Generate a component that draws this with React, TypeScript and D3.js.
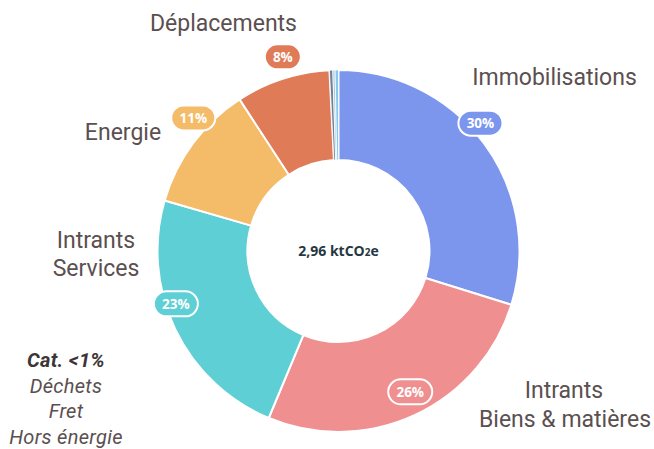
import React from "react";
import * as d3 from "d3";

const categories = ["Immobilisations", "Intrants Biens & matières", "Intrants Services", "Energie", "Déplacements", "Déchets", "Fret", "Hors énergie"];
const values = [29.8, 26.5, 23.2, 11.3, 8.4, 0.3, 0.2, 0.3];
const badgeLabels = ["30%", "26%", "23%", "11%", "8%", "", "", ""];
const colors = ["#7b96ec", "#f08f8f", "#5ecfd4", "#f4bb68", "#e07b58", "#6f8296", "#a9c6dc", "#86c9ee"];
// badge polar placement (degrees clockwise from top, radius px)
const badgeAngle = [48, 153, 252, 312.5, 344];
const badgeRadius = [191, 158, 171, 197, 202];

const W = 654, H = 449;
const cx = 338.5, cy = 251, R = 181, r0 = 91;
const textColor = "#5b4f50";
const labelFont = "Roboto, 'Open Sans', sans-serif";

export default function App() {
  const pie = d3.pie<number>().sort(null).value((d) => d);
  const arcs = pie(values);
  const arcGen = d3.arc<d3.PieArcDatum<number>>().innerRadius(r0).outerRadius(R);

  return (
    <svg width={W} height={H} style={{ position: "absolute", left: 0, top: 0 }} xmlns="http://www.w3.org/2000/svg">
      <rect width={W} height={H} fill="#fff" />
      <g transform={`translate(${cx},${cy})`}>
        {arcs.map((a, i) => (
          <path key={i} d={arcGen(a) || ""} fill={colors[i]} stroke="#fff" strokeWidth={i >= 5 ? 0.8 : 2} strokeLinejoin="round" />
        ))}
        {badgeAngle.map((ang, i) => {
          const rad = (ang * Math.PI) / 180;
          const x = Math.sin(rad) * badgeRadius[i];
          const y = -Math.cos(rad) * badgeRadius[i];
          const w = badgeLabels[i].length > 2 ? 44 : 36;
          return (
            <g key={"b" + i} transform={`translate(${x},${y})`}>
              <rect x={-w / 2} y={-12.5} width={w} height={25} rx={12.5} fill={colors[i]} stroke="#fff" strokeWidth={2} />
              <text textAnchor="middle" dy="0.36em" fill="#fff" fontFamily="'Open Sans', sans-serif" fontWeight={700} fontSize={13.5}>{badgeLabels[i]}</text>
            </g>
          );
        })}
        <text textAnchor="middle" dy="0.36em" fill="#26383f" fontFamily="'Open Sans', sans-serif" fontWeight={700} fontSize={14}>
          2,96 ktCO<tspan fontSize={10}>2</tspan>e
        </text>
      </g>
      <g fontFamily={labelFont} fontSize={23} fill={textColor}>
        <text x={223.5} y={31} textAnchor="middle">Déplacements</text>
        <text x={554.5} y={85} textAnchor="middle">Immobilisations</text>
        <text x={123} y={140} textAnchor="middle">Energie</text>
        <text x={96} y={248} textAnchor="middle">Intrants</text>
        <text x={96} y={276} textAnchor="middle">Services</text>
        <text x={564} y={398} textAnchor="middle">Intrants</text>
        <text x={565} y={427} textAnchor="middle">Biens &amp; matières</text>
      </g>
      <g fontFamily={labelFont} fontSize={20} letterSpacing={0.3} fill={textColor} fontStyle="italic" textAnchor="middle">
        <text x={66} y={367} fontWeight={700} fill="#3d3536">Cat. &lt;1%</text>
        <text x={66} y={393}>{categories[5]}</text>
        <text x={66} y={418}>{categories[6]}</text>
        <text x={66} y={444}>{categories[7]}</text>
      </g>
    </svg>
  );
}
